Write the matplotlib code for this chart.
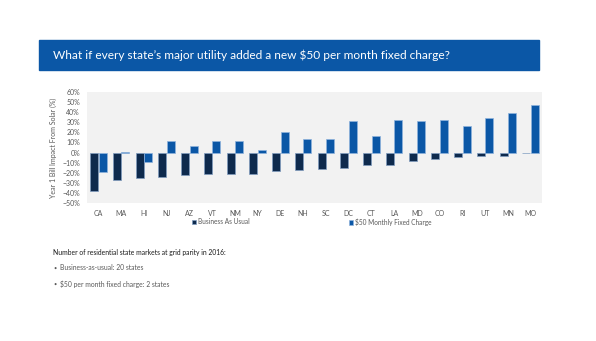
import numpy as np
import matplotlib.pyplot as plt
from matplotlib.ticker import PercentFormatter

# data
states = ["CA", "MA", "HI", "NJ", "AZ", "VT", "NM", "NY", "DE", "NH",
          "SC", "DC", "CT", "LA", "MD", "CO", "RI", "UT", "MN", "MO"]
business_as_usual = [-38, -27, -25, -24.5, -22, -21.5, -21.5, -21, -18, -17.5,
                     -16.5, -15.5, -12.5, -12, -8, -6.5, -4, -3.5, -3, -0.8]
fixed_charge_50 = [-19.5, 1, -9.5, 11.5, 6.5, 11, 11, 3, 20, 13,
                   13.5, 31, 16.5, 32.5, 31.5, 32, 26, 34, 39.5, 47]

title = "What if every state\u2019s major utility added a new $50 per month fixed charge?"
note_head = "Number of residential state markets at grid parity in 2016:"
notes = ["Business-as-usual: 20 states", "$50 per month fixed charge: 2 states"]

navy = "#0e2a4d"
blue = "#0b57a6"
grey_txt = "#595959"

plt.rcParams['font.family'] = ['Lato', 'DejaVu Sans']

fig = plt.figure(figsize=(5.96, 3.41), dpi=100)
fig.patch.set_facecolor("white")

# title banner
fig.patches.append(plt.Rectangle((39 / 596, 1 - 70 / 341), 500 / 596, 30 / 341,
                                 transform=fig.transFigure, color=blue, zorder=0))
fig.text(53 / 596, 1 - 55.5 / 341, title, color="white", fontsize=8.6,
         va="center", ha="left")

ax = fig.add_axes([87 / 596, 1 - 203 / 341, 455 / 596, 111 / 341])
ax.set_facecolor("#f2f2f2")
x = np.arange(len(states))
w = 0.35
ax.bar(x - 0.19, business_as_usual, w, color=navy, edgecolor="#7f9cc0",
       linewidth=0.5, label="Business As Usual", zorder=2)
ax.bar(x + 0.19, fixed_charge_50, w, color=blue, edgecolor="#8fb3dd",
       linewidth=0.5, label="$50 Monthly Fixed Charge", zorder=2)

ax.set_xlim(-0.5, len(states) - 0.5)
ax.set_ylim(-50, 60)
ax.set_yticks(np.arange(-50, 61, 10))
ax.yaxis.set_major_formatter(PercentFormatter(decimals=0))
ax.set_xticks(x)
ax.set_xticklabels(states)
ax.tick_params(axis="both", length=0, labelsize=5, colors=grey_txt)
ax.tick_params(axis="x", pad=5)
ax.tick_params(axis="y", pad=5)
for s in ax.spines.values():
    s.set_visible(False)
ax.set_ylabel("Year 1 Bill Impact From Solar (%)", fontsize=5, color=grey_txt,
              labelpad=4)

# legend entries placed as in the reference
handles, labels = ax.get_legend_handles_labels()
for h, l, xpos in zip(handles, labels, (186, 343)):
    fig.legend([h], [l], loc="center left",
               bbox_to_anchor=(xpos / 596, 1 - 222 / 341), frameon=False,
               fontsize=4.7, handlelength=0.6, handleheight=0.6,
               handletextpad=0.4, labelcolor=grey_txt)

fig.text(53 / 596, 1 - 253 / 341, note_head, fontsize=4.9, color="#1a1a1a",
         va="center")
for i, n in enumerate(notes):
    y = 1 - (268 + 16 * i) / 341
    fig.text(53 / 596, y, "\u2022", fontsize=4, color=grey_txt, va="center")
    fig.text(60 / 596, y, n, fontsize=4.9, color=grey_txt, va="center")

fig.savefig("out.png", dpi=100)
